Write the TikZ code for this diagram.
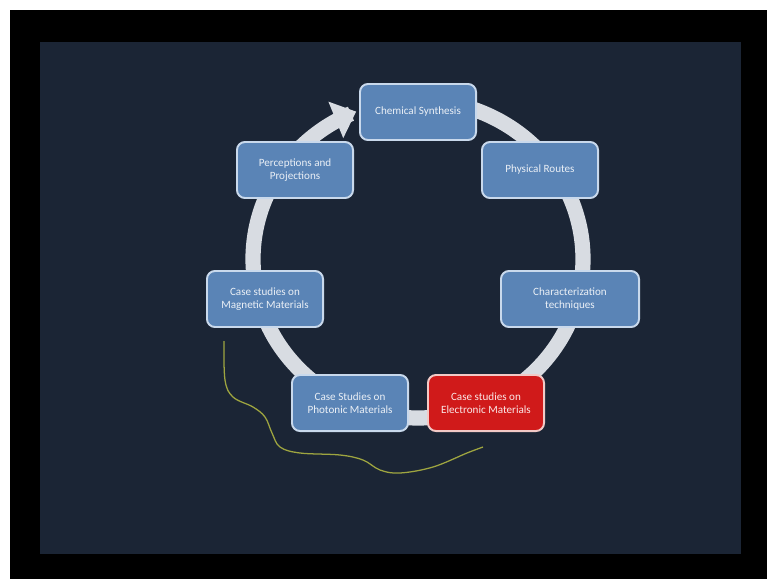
\documentclass[tikz,border=0pt]{standalone}
\usepackage{fontspec}
\setmainfont{Carlito}
\usepackage{tikz}
\usetikzlibrary{positioning}
\usetikzlibrary{arrows.meta}

\definecolor{slidebg}{HTML}{1B2535}
\definecolor{boxblue}{HTML}{5A84B6}
\definecolor{boxedge}{HTML}{C9D9EC}
\definecolor{boxred}{HTML}{D01A1A}
\definecolor{rededge}{HTML}{F2C9C6}
\definecolor{ringgrey}{HTML}{D8DCE2}
\definecolor{inkgreen}{HTML}{9EA540}

\tikzset{
	topic/.style={draw=boxedge, fill=boxblue, line width=1.4pt, rounded corners=0.2cm,
		minimum width=2.9cm, minimum height=1.4cm, align=center, text=white!88!boxblue,
		font=\fontsize{7.9}{9.4}\selectfont},
	hottopic/.style={topic, draw=rededge, fill=boxred, text=white!90!boxred}
}

\begin{document}
\begin{tikzpicture}[x=0.025cm, y=-0.025cm]
			\fill[white] (0,0) rectangle (767,579);
			\fill[black] (10,10) rectangle (767,579);
			\fill[slidebg] (40,42) rectangle (741,554);
			\useasboundingbox (0,0) rectangle (767,579);
			% ring behind the boxes
			\draw[ringgrey, line width=0.38cm, -{Triangle[length=0.55cm, width=0.95cm]}]
				plot[domain=0:343, samples=120, smooth] ({418+165*cos(95-\x)}, {259-159*sin(95-\x)});
			\node at (418,112) (chem) [topic] {Chemical Synthesis};
			\node at (540,170) (phys) [topic] {Physical Routes};
			\node at (570,299) (charac) [topic, minimum width=3.45cm] {Characterization\\techniques};
			\node at (486,403) (elec) [hottopic] {Case studies on\\Electronic Materials};
			\node at (350,403) (phot) [topic] {Case Studies on\\Photonic Materials};
			\node at (265,299) (magn) [topic] {Case studies on\\Magnetic Materials};
			\node at (295,170) (persp) [topic] {Perceptions and\\Projections};
			% hand drawn mark
			\draw[inkgreen, line width=0.9pt] plot[smooth, tension=0.6] coordinates {(224,341) (225,380) (233,397) (253,407) (265,417) (272,433) (280,447) (300,453) (340,455) (363,460) (380,470) (400,473) (433,467) (467,453) (483,447)};
\end{tikzpicture}
\end{document}
